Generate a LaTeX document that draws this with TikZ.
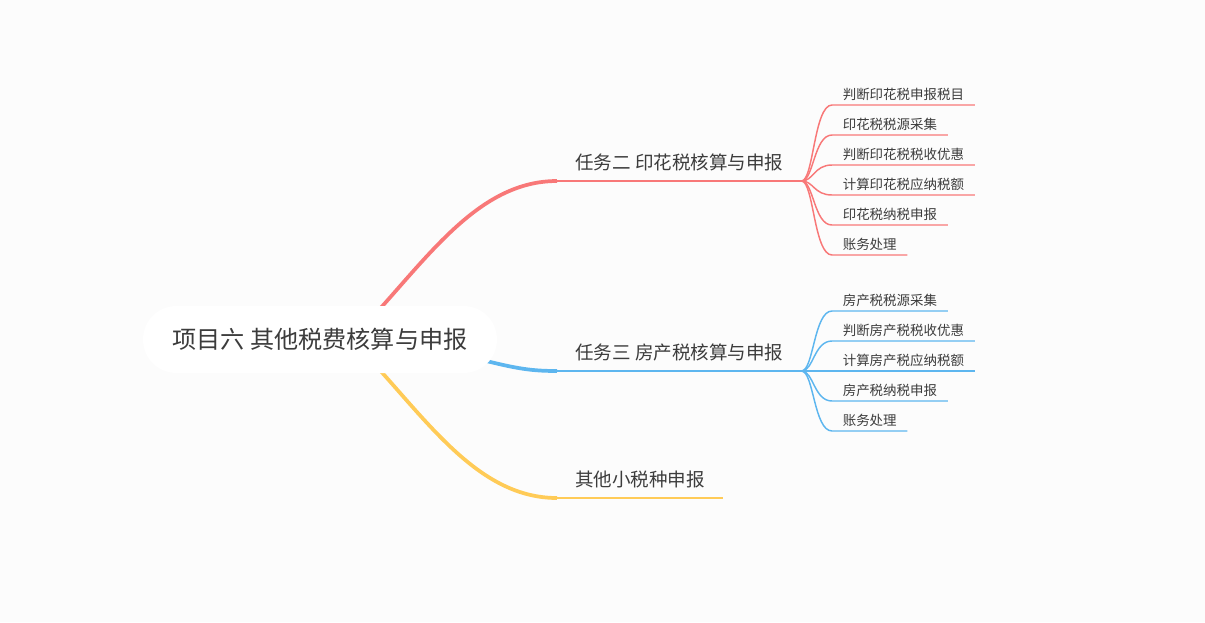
\documentclass[tikz,border=0pt]{standalone}
\usepackage{fontspec}
\setmainfont{Noto Sans CJK SC}
\usepackage{tikz}
\usetikzlibrary{positioning}
\usetikzlibrary{calc}
\pgfdeclarelayer{behind}
\pgfsetlayers{behind,main}
\definecolor{bg}{HTML}{FCFCFC}
\definecolor{txt}{HTML}{3C3C3C}
\definecolor{redline}{HTML}{F87878}
\definecolor{blueline}{HTML}{5DB6EF}
\definecolor{yellowline}{HTML}{FFCB57}
\tikzstyle{rootnode}=[rectangle,rounded corners=25pt,fill=white,text=txt,minimum width=265.5pt,minimum height=50.25pt,font=\fontsize{18.1}{22}\selectfont]
\tikzstyle{task}=[anchor=south west,text=txt,inner xsep=13.5pt,inner ysep=8.25pt,text depth=0pt,font=\fontsize{13.9}{17}\selectfont]
\tikzstyle{leaf}=[anchor=south west,text=txt,inner xsep=7.9pt,inner ysep=4.1pt,text depth=0pt,font=\fontsize{10.1}{12}\selectfont]
\tikzstyle{branch} = [draw,line width=2.8pt]
\tikzstyle{underline} = [draw,line width=1.6pt]
\tikzstyle{twig} = [draw,line width=1.1pt]

\begin{document}
\begin{tikzpicture}[x=0.75pt,y=-0.75pt]

  \useasboundingbox (0,0) rectangle (1205,622);

  \def\tx{557};
  \def\lx{832};

  \node[rootnode] (root) at (320,339.5) {项目六 其他税费核算与申报};

  \foreach \y/\name/\label in {181/T2/任务二 印花税核算与申报, 371/T3/任务三 房产税核算与申报, 498/T4/其他小税种申报}
          \node[task] (\name) at (\tx,\y) {\label};

  % main branches, behind the root
  \begin{pgfonlayer}{behind}
    \fill[bg] (0,0) rectangle (1205,622);
    \path[branch, redline] ($(root.north)+(50,14)$) .. controls +(60,-65) and +(-77,0) .. (T2.south west);
    \path[branch, blueline] ($(root.east)+(-25,18)$) .. controls +(40,10) and +(-30,0) .. (T3.south west);
    \path[branch, yellowline] ($(root.south)+(50,-14)$) .. controls +(60,65) and +(-77,0) .. (T4.south west);
  \end{pgfonlayer}

  \path[underline, redline] (T2.south west) -- (T2.south east);
  \path[underline, blueline] (T3.south west) -- (T3.south east);
  \path[underline, yellowline] (T4.south west) -- (T4.south east);

  % leaves
  \foreach \y/\name/\label in {105/R1/判断印花税申报税目, 135/R2/印花税税源采集, 165/R3/判断印花税税收优惠, 195/R4/计算印花税应纳税额, 225/R5/印花税纳税申报, 255/R6/账务处理}
  {
    \node[leaf] (\name) at (\lx,\y) {\label};
    \path[twig, redline] (T2.south east) .. controls +(12,0) and +(-18,0) .. (\name.south west) -- (\name.south east);
  }

  \foreach \y/\name/\label in {311/B1/房产税税源采集, 341/B2/判断房产税税收优惠, 371/B3/计算房产税应纳税额, 401/B4/房产税纳税申报, 431/B5/账务处理}
  {
    \node[leaf] (\name) at (\lx,\y) {\label};
    \path[twig, blueline] (T3.south east) .. controls +(12,0) and +(-18,0) .. (\name.south west) -- (\name.south east);
  }

\end{tikzpicture}
\end{document}
